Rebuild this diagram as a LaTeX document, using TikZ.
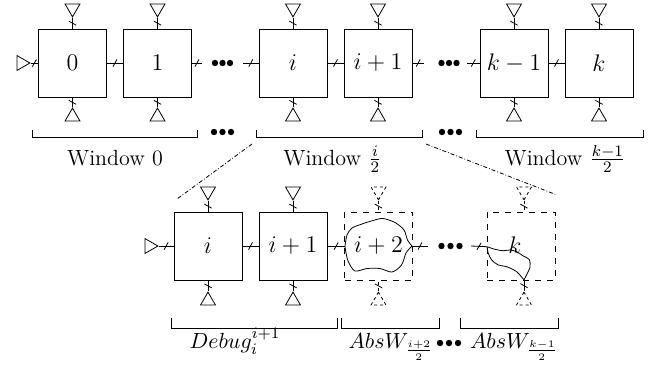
\documentclass[tikz,border=0pt]{standalone}
\usetikzlibrary{shapes.geometric,decorations.markings}
\begin{document}
\begin{tikzpicture}[x=0.5pt,y=-0.5pt]
      \tikzset{block/.style={draw, rectangle, inner sep=0pt, minimum size=34pt, font=\fontsize{12}{14}\selectfont},
               port/.style={draw, regular polygon, regular polygon sides=3, inner sep=0pt, minimum size=8.6pt},
               bus/.style={postaction={decorate}, decoration={markings, mark=at position 0.5 with {\draw[solid] (-1pt,-1.8pt) -- (1pt,1.8pt);}}},
               winlabel/.style={font=\fontsize{11}{13}\selectfont, anchor=base},
               zoomline/.style={dash pattern=on 2pt off 1pt on 0.4pt off 1pt},
               ghost/.style={dash pattern=on 1.5pt off 1.5pt}}
      \useasboundingbox (0,0) rectangle (654,371);
%% Top row
	%windows
      	\node[block] (w0) at (72.5,63) {0};
      	\node[block] (w1) at (157.5,63) {1};
      	\node[block] (wi) at (293,63) {$i$};
      	\node[block] (wi1) at (378,63) {$i+1$};
      	\node[block] (wk1) at (514,63) {$k-1$};
      	\node[block] (wk) at (599,63) {$k$};
	%ports
		\node[port, shape border rotate=-90] (in0) at (21.3,63) {};
		\node[port, shape border rotate=180] (t0) at (72.5,8.3) {};
		\node[port, shape border rotate=180] (t1) at (157.5,8.3) {};
		\node[port, shape border rotate=180] (ti) at (293,8.3) {};
		\node[port, shape border rotate=180] (ti1) at (378,8.3) {};
		\node[port, shape border rotate=180] (tk1) at (514,8.3) {};
		\node[port, shape border rotate=180] (tk) at (599,8.3) {};
		\node[port] (b0) at (72.5,116.7) {};
		\node[port] (b1) at (157.5,116.7) {};
		\node[port] (bi) at (293,116.7) {};
		\node[port] (bi1) at (378,116.7) {};
		\node[port] (bk1) at (514,116.7) {};
		\node[port] (bk) at (599,116.7) {};
	%loose ends around the dots
		\coordinate (d1) at (202,63);
		\coordinate (d2) at (243,63);
		\coordinate (d3) at (424,63);
		\coordinate (d4) at (467,63);
%Edges
	%top row
		\path (in0.corner 1) edge[bus] (w0);
		\path (w0) edge[bus] (w1);
		\path (w1) edge[bus] (d1);
		\path (d2) edge[bus] (wi);
		\path (wi) edge[bus] (wi1);
		\path (wi1) edge[bus] (d3);
		\path (d4) edge[bus] (wk1);
		\path (wk1) edge[bus] (wk);
		\path (t0.corner 1) edge[bus] (w0);
		\path (t1.corner 1) edge[bus] (w1);
		\path (ti.corner 1) edge[bus] (wi);
		\path (ti1.corner 1) edge[bus] (wi1);
		\path (tk1.corner 1) edge[bus] (wk1);
		\path (tk.corner 1) edge[bus] (wk);
		\path (b0.corner 1) edge[bus] (w0);
		\path (b1.corner 1) edge[bus] (w1);
		\path (bi.corner 1) edge[bus] (wi);
		\path (bi1.corner 1) edge[bus] (wi1);
		\path (bk1.corner 1) edge[bus] (wk1);
		\path (bk.corner 1) edge[bus] (wk);
	%dots
		\foreach \x in {215,222.5,230,441.5,449,456.5} \fill (\x,63) circle (1.6pt);
		\foreach \x in {214,222.5,231,442,450.5,459} \fill (\x,132) circle (1.6pt);
%% Windows
		\draw (32,130) -- (32,137) -- (197,137) -- (197,130);
		\draw (256,130) -- (256,137) -- (422,137) -- (422,130);
		\draw (476,130) -- (476,137) -- (643,137) -- (643,130);
		\node[winlabel] (l0) at (115,165) {Window 0};
		\node[winlabel] (li) at (332.5,165) {Window $\frac{i}{2}$};
		\node[winlabel] (lk) at (565,165) {Window $\frac{k-1}{2}$};
	%zoom
		\coordinate (z1) at (252,144);
		\coordinate (z2) at (177,199);
		\coordinate (z3) at (426,144);
		\coordinate (z4) at (557,195);
		\draw[zoomline] (z1) -- (z2);
		\draw[zoomline] (z3) -- (z4);
%% Bottom row
	%windows
      	\node[block] (di) at (208,246) {$i$};
      	\node[block] (di1) at (293,246) {$i+1$};
      	\node[block, dashed] (ai2) at (378.5,246) {$i+2$};
      	\node[block, dashed] (ak) at (521,246) {};
      	\node[font=\fontsize{12}{14}\selectfont] (lak) at (515,245) {$k$};
	%ports
		\node[port, shape border rotate=-90] (in1) at (149.3,246) {};
		\node[port, shape border rotate=180] (tdi) at (208,191.3) {};
		\node[port, shape border rotate=180] (tdi1) at (293,191.3) {};
		\node[port, ghost, shape border rotate=180] (tai2) at (378.5,191.3) {};
		\node[port, ghost, shape border rotate=180] (tak) at (524,191.3) {};
		\node[port] (bdi) at (208,300.7) {};
		\node[port] (bdi1) at (293,300.7) {};
		\node[port, ghost] (bai2) at (378.5,300.7) {};
		\node[port, ghost] (bak) at (524,300.7) {};
	%blobs
		\coordinate (bl) at (345,246);
		\coordinate (br) at (412,246);
		\coordinate (kl) at (487,246.7);
		\coordinate (kb) at (524,280);
		\draw plot[smooth] coordinates {(bl) (347,235) (352,228) (362,224) (373,220.5) (383,218.5) (395,222.5) (404,230) (407.5,240) (br)}
		      plot[smooth] coordinates {(br) (406,253) (401.5,265) (392,272) (380,268.5) (367,268.5) (355,271) (348.5,262) (346,253) (bl)};
		\draw plot[smooth] coordinates {(kl) (495,249.3) (503.3,250.7) (510,250) (516.7,251.7) (523.3,256) (529.3,259.5) (530,267) (526.5,275) (kb)}
		      plot[smooth] coordinates {(kb) (516.7,271.7) (506.7,266.7) (498.3,265) (491.7,260) (488.3,253.3) (kl)};
	%loose ends around the dots
		\coordinate (d5) at (428,246);
		\coordinate (d6) at (471,246);
%Edges
		\path (in1.corner 1) edge[bus] (di);
		\path (di) edge[bus] (di1);
		\path (di1) edge[bus] (bl);
		\path (br) edge[bus] (d5);
		\path (d6) edge[bus] (kl);
		\path (tdi.corner 1) edge[bus] (di);
		\path (tdi1.corner 1) edge[bus] (di1);
		\path (tai2.corner 1) edge[bus, ghost] (ai2);
		\path (tak.corner 1) edge[bus, ghost] (tak.corner 1 |- ak.north);
		\path (bdi.corner 1) edge[bus] (di);
		\path (bdi1.corner 1) edge[bus] (di1);
		\path (bai2.corner 1) edge[bus, ghost] (ai2);
		\path (kb) edge[bus] (bak.corner 1);
	%dots
		\foreach \x in {441.5,450.5,459.5} \fill (\x,246) circle (1.6pt);
		\foreach \x in {440,449,458} \fill (\x,343) circle (1.6pt);
%% Pieces
		\draw (171,318) -- (171,328) -- (337,328) -- (337,318);
		\draw (341,318) -- (341,328) -- (439,328) -- (439,318);
		\draw (460,318) -- (460,328) -- (558,328) -- (558,318);
		\node[winlabel] (ldbg) at (235,348) {$Debug_i^{i+1}$};
		\node[winlabel] (labs1) at (391,348) {$AbsW_{\frac{i+2}{2}}$};
		\node[winlabel] (labs2) at (514,348) {$AbsW_{\frac{k-1}{2}}$};
\end{tikzpicture}
\end{document}
